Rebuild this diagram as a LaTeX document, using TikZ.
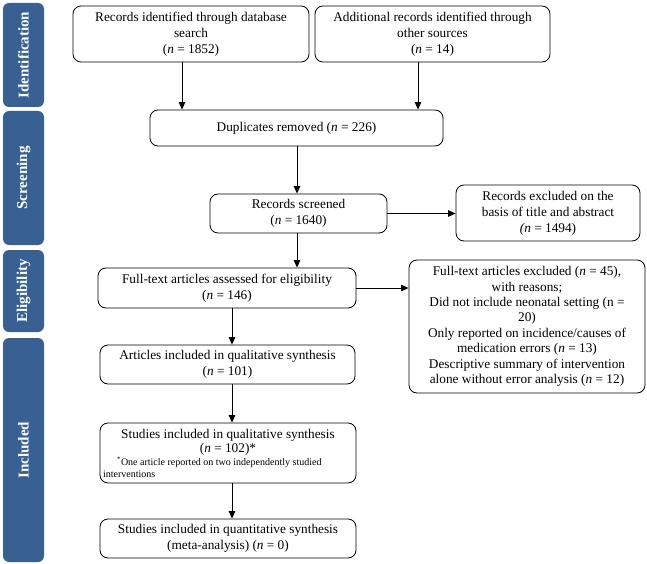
\documentclass[tikz,border=0pt]{standalone}
\usepackage{fontspec}
\setmainfont{Liberation Serif}
\usetikzlibrary{arrows.meta}
\definecolor{sideblue}{RGB}{56,96,146}
\begin{document}
\begin{tikzpicture}[x=1pt,y=1pt,
  box/.style={draw, rounded corners=8pt, line width=0.8pt, align=center, inner sep=2pt,
    font=\fontsize{13.3}{16}\selectfont},
  side/.style={fill=sideblue, rounded corners=6pt, text=white, rotate=90, inner sep=0pt,
    font=\bfseries\fontsize{15}{16}\selectfont, minimum height=41pt},
  arr/.style={-{Triangle[width=6.5pt,length=7.5pt]}, line width=0.9pt}]
\useasboundingbox (0,0) rectangle (647,-564);
% side bars
\node[side, minimum width=104pt] (s1) at (23.5,-55) {Identification};
\node[side, minimum width=134pt] (s2) at (23.5,-178) {Screening};
\node[side, minimum width=82pt] (s3) at (23.5,-291) {Eligibility};
\node[side, minimum width=224pt] (s4) at (23.5,-450) {Included};
% boxes
\node[box, minimum width=236pt, minimum height=56pt] (b1) at (191,-34)
  {Records identified through database\\search\\(\textit{n} = 1852)};
\node[box, minimum width=235pt, minimum height=56pt] (b2) at (432.5,-34)
  {Additional records identified through\\other sources\\(\textit{n} = 14)};
\node[box, minimum width=293pt, minimum height=36pt] (dup) at (296.5,-128)
  {Duplicates removed (\textit{n} = 226)};
\node[box, minimum width=177pt, minimum height=39pt] (scr) at (298.5,-213.5)
  {Records screened\\(\textit{n} = 1640)};
\node[box, minimum width=184pt, minimum height=56pt] (ex1) at (548,-213)
  {Records excluded on the\\basis of title and abstract\\\textit{(n} = 1494)};
\node[box, minimum width=258pt, minimum height=40pt] (ass) at (227,-288)
  {Full-text articles assessed for eligibility\\(\textit{n} = 146)};
\node[box, minimum width=236pt, minimum height=133pt, font=\fontsize{13.3}{15.4}\selectfont] (ex2) at (527,-326.5)
  {Full-text articles excluded (\textit{n} = 45),\\with reasons;\\Did not include neonatal setting (n =\\20)\\Only reported on incidence/causes of\\medication errors (\textit{n} = 13)\\Descriptive summary of intervention\\alone without error analysis (\textit{n} = 12)};
\node[box, minimum width=255pt, minimum height=39pt] (art) at (227.5,-364.5)
  {Articles included in qualitative synthesis\\(\textit{n} = 101)};
\node[box, minimum width=256pt, minimum height=60pt] (sq) at (228,-453)
  {Studies included in qualitative synthesis\\[-2pt](\textit{n} = 102)*\\[-3pt]
   {\fontsize{10}{12}\selectfont\makebox[250pt][l]{\hspace*{14pt}\textsuperscript{*}One article reported on two independently studied}}\\[-4pt]
   {\fontsize{10}{12}\selectfont\makebox[250pt][l]{interventions}}};
\node[box, minimum width=256pt, minimum height=39pt] (qt) at (228,-538.5)
  {Studies included in quantitative synthesis\\(meta-analysis) (\textit{n} = 0)};
% arrow columns
\coordinate (c1) at (182,0);
\coordinate (c2) at (418,0);
\coordinate (c3) at (297,0);
\coordinate (c4) at (232,0);
\draw[arr] (b1.south -| c1) -- (dup.north -| c1);
\draw[arr] (b2.south -| c2) -- (dup.north -| c2);
\draw[arr] (dup.south -| c3) -- (scr.north -| c3);
\draw[arr] (scr.south -| c3) -- (ass.north -| c3);
\draw[arr] (scr.east) -- (scr.east -| ex1.west);
\draw[arr] (ass.east) -- (ass.east -| ex2.west);
\draw[arr] (ass.south -| c4) -- (art.north -| c4);
\draw[arr] (art.south -| c4) -- (sq.north -| c4);
\draw[arr] (sq.south -| c4) -- (qt.north -| c4);
\end{tikzpicture}
\end{document}
